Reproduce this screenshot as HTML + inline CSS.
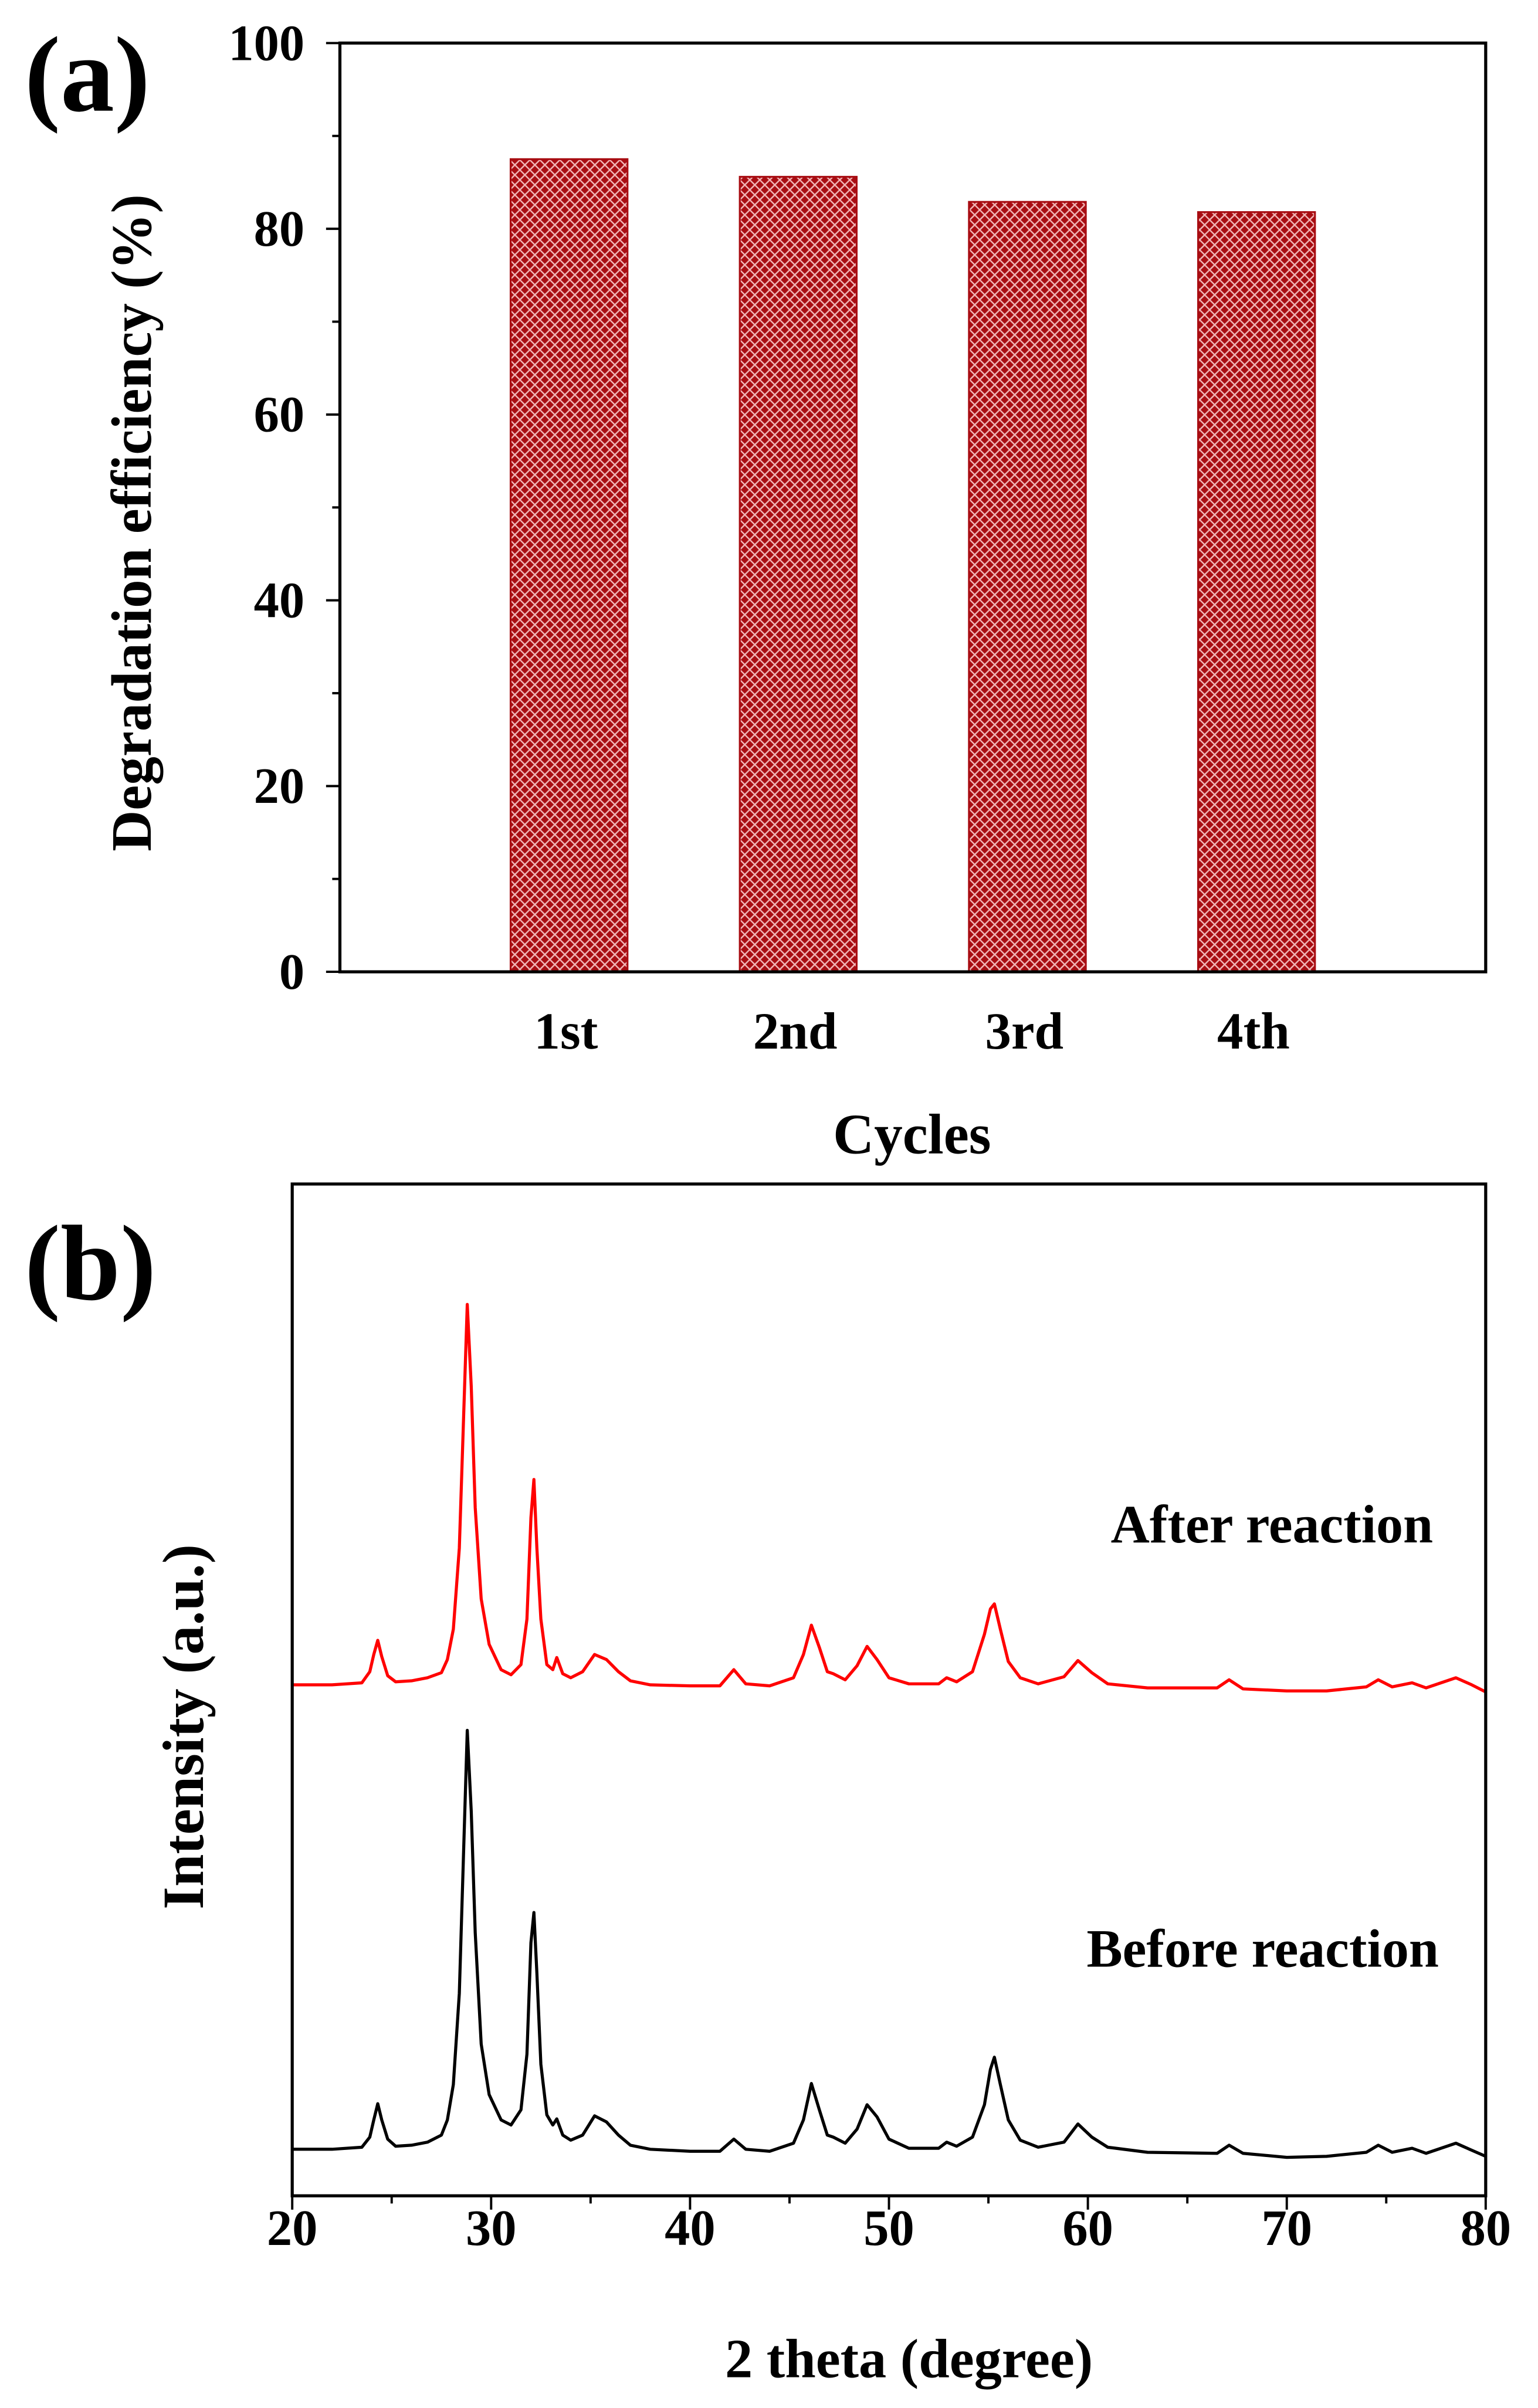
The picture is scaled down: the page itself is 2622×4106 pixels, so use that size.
<!DOCTYPE html>
<html><head><meta charset="utf-8"><style>
html,body{margin:0;padding:0;background:#fff;}
svg{display:block;}
text{font-family:"Liberation Serif",serif;font-weight:bold;fill:#000;}
</style></head><body>
<svg id="fig" width="2622" height="4106" viewBox="0 0 1000 1566" xmlns="http://www.w3.org/2000/svg">
<defs>
<pattern id="hatch" patternUnits="userSpaceOnUse" width="6.5" height="6.5">
<rect width="6.5" height="6.5" fill="#a80d12"/>
<path d="M0,0 L6.5,6.5 M6.5,0 L0,6.5" stroke="#f2b8b8" stroke-width="0.9"/>
</pattern>
</defs>
<g id="chartA"></g>
<g id="chartB"></g>
</svg>
<script>
const cycleCategories = ["1st","2nd","3rd","4th"];
const efficiencyValues = [87.5, 85.6, 82.9, 81.8];
const yTicksA = [0,20,40,60,80,100];

const thetaBefore = [20,22,23.5,23.9,24.1,24.3,24.5,24.8,25.2,26.0,26.8,27.5,27.8,28.1,28.4,28.6,28.8,29.0,29.2,29.5,29.9,30.5,31.0,31.5,31.8,32.0,32.15,32.3,32.5,32.8,33.1,33.3,33.6,34.0,34.6,35.2,35.8,36.4,37.0,38,40,41.5,42.2,42.8,44,45.2,45.7,46.1,46.5,46.9,47.2,47.8,48.4,48.9,49.4,50.0,51,52.5,52.9,53.4,54.2,54.8,55.1,55.3,55.6,56.0,56.6,57.5,58.8,59.5,60.2,61.0,63,66.5,67.1,67.8,70,72,74,74.6,75.3,76.3,77,78.5,79.3,80];
const intensityBefore = [4.6,4.6,4.8,5.8,7.5,9.1,7.5,5.6,4.9,5.0,5.3,6.0,7.5,11,20,33,46,38,26,15,10,7.5,7,8.5,14,25,28,22,13,8,7,7.6,6,5.5,6.0,7.9,7.3,6.0,5.0,4.6,4.4,4.4,5.6,4.6,4.4,5.2,7.5,11.1,8.5,6.0,5.8,5.2,6.6,9.0,7.8,5.6,4.7,4.7,5.3,4.9,5.8,9,12.5,13.7,11,7.5,5.5,4.8,5.3,7.1,5.8,4.8,4.3,4.2,5.0,4.2,3.8,3.9,4.3,5.0,4.3,4.7,4.2,5.2,4.5,3.9];
const thetaAfter = [20,22,23.5,23.9,24.1,24.3,24.5,24.8,25.2,26.0,26.8,27.5,27.8,28.1,28.4,28.6,28.8,29.0,29.2,29.5,29.9,30.5,31.0,31.5,31.8,32.0,32.15,32.3,32.5,32.8,33.1,33.3,33.6,34.0,34.6,35.2,35.8,36.4,37.0,38,40,41.5,42.2,42.8,44,45.2,45.7,46.1,46.5,46.9,47.2,47.8,48.4,48.9,49.4,50.0,51,52.5,52.9,53.4,54.2,54.8,55.1,55.3,55.6,56.0,56.6,57.5,58.8,59.5,60.2,61.0,63,66.5,67.1,67.8,70,72,74,74.6,75.3,76.3,77,78.5,79.3,80];
const intensityAfter = [50.5,50.5,50.7,51.8,53.5,54.9,53.3,51.4,50.8,50.9,51.2,51.7,53,56,64,76,88.1,80,68,59,54.5,52,51.5,52.5,57,67,70.8,64,57,52.5,52,53.2,51.6,51.2,51.8,53.5,53.0,51.8,50.9,50.5,50.4,50.4,52.0,50.6,50.4,51.2,53.5,56.4,54.2,51.8,51.6,51.0,52.4,54.3,53.0,51.2,50.6,50.6,51.2,50.8,51.8,55.5,58,58.5,56,52.8,51.2,50.6,51.3,52.9,51.7,50.6,50.2,50.2,51.0,50.1,49.9,49.9,50.3,51.0,50.3,50.7,50.2,51.2,50.5,49.8];
const xTicksB = [20,30,40,50,60,70,80];

const NS="http://www.w3.org/2000/svg";
function mk(parent,tag,attrs,txt){const e=document.createElementNS(NS,tag);for(const k in attrs)e.setAttribute(k,attrs[k]);if(txt!==undefined)e.textContent=txt;parent.appendChild(e);return e;}

// ---------- Chart A ----------
const A=document.getElementById('chartA');
const aL=221,aR=966,aT=28,aB=632;
const xA=v=>aL+(v/5)*(aR-aL);
const yA=v=>aB-(v/100)*(aB-aT);
efficiencyValues.forEach((v,i)=>{
  const cx=xA(i+1),w=(aR-aL)/5*0.51;
  const r=mk(A,'rect',{x:cx-w/2,y:yA(v),width:w,height:yA(0)-yA(v),fill:'url(#hatch)',stroke:'#a80d12','stroke-width':1.2});
  
  
  const t=mk(A,'text',{x:cx-2,y:682,'font-size':34,'text-anchor':'middle'},cycleCategories[i]);
  
  
});
for(let v=0;v<=100;v+=10){
  const major=v%20===0;
  mk(A,'line',{x1:aL-(major?9:5),x2:aL,y1:yA(v),y2:yA(v),stroke:'#000','stroke-width':1.5});
}
yTicksA.forEach(v=>{
  const t=mk(A,'text',{x:198,y:yA(v)+11,'font-size':33,'text-anchor':'end'},v);
  
  
});
const fa=mk(A,'rect',{x:aL,y:aT,width:aR-aL,height:aB-aT,fill:'none',stroke:'#000','stroke-width':2});


let t;
t=mk(A,'text',{x:593,y:750,'font-size':37,'text-anchor':'middle'},'Cycles');


t=mk(A,'text',{x:0,y:0,'font-size':37,'text-anchor':'middle',transform:'translate(98,340) rotate(-90)'},'Degradation efficiency (%)');


t=mk(A,'text',{x:16,y:72,'font-size':70},'(a)');



// ---------- Chart B ----------
const B=document.getElementById('chartB');
const bL=190,bR=966,bT=770,bB=1428;
const xB=v=>bL+(v-20)/60*(bR-bL);
const yB=v=>bB-(v/100)*(bB-bT);
for(let v=20;v<=80;v+=5){
  const major=v%10===0;
  mk(B,'line',{x1:xB(v),x2:xB(v),y1:bB,y2:bB+(major?9:5),stroke:'#000','stroke-width':1.5});
}
xTicksB.forEach(v=>{
  const tt=mk(B,'text',{x:xB(v),y:1460,'font-size':33,'text-anchor':'middle'},v);
  
  
});
function series(xs,ys,color,name){
  const p=mk(B,'polyline',{points:xs.map((x,i)=>xB(x)+','+yB(ys[i])).join(' '),fill:'none',stroke:color,'stroke-width':2,'stroke-linejoin':'round'});
  
  
}
series(thetaBefore,intensityBefore,'#000','before-reaction-line');
series(thetaAfter,intensityAfter,'#ff0000','after-reaction-line');
const fb=mk(B,'rect',{x:bL,y:bT,width:bR-bL,height:bB-bT,fill:'none',stroke:'#000','stroke-width':2});


t=mk(B,'text',{x:827,y:1003,'font-size':35,'text-anchor':'middle'},'After reaction');


t=mk(B,'text',{x:821,y:1279,'font-size':35,'text-anchor':'middle'},'Before reaction');


t=mk(B,'text',{x:591,y:1546,'font-size':36,'text-anchor':'middle'},'2 theta (degree)');


t=mk(B,'text',{x:0,y:0,'font-size':38,'text-anchor':'middle',transform:'translate(132,1123) rotate(-90)'},'Intensity (a.u.)');


t=mk(B,'text',{x:16,y:845,'font-size':70},'(b)');


</script>
</body></html>
